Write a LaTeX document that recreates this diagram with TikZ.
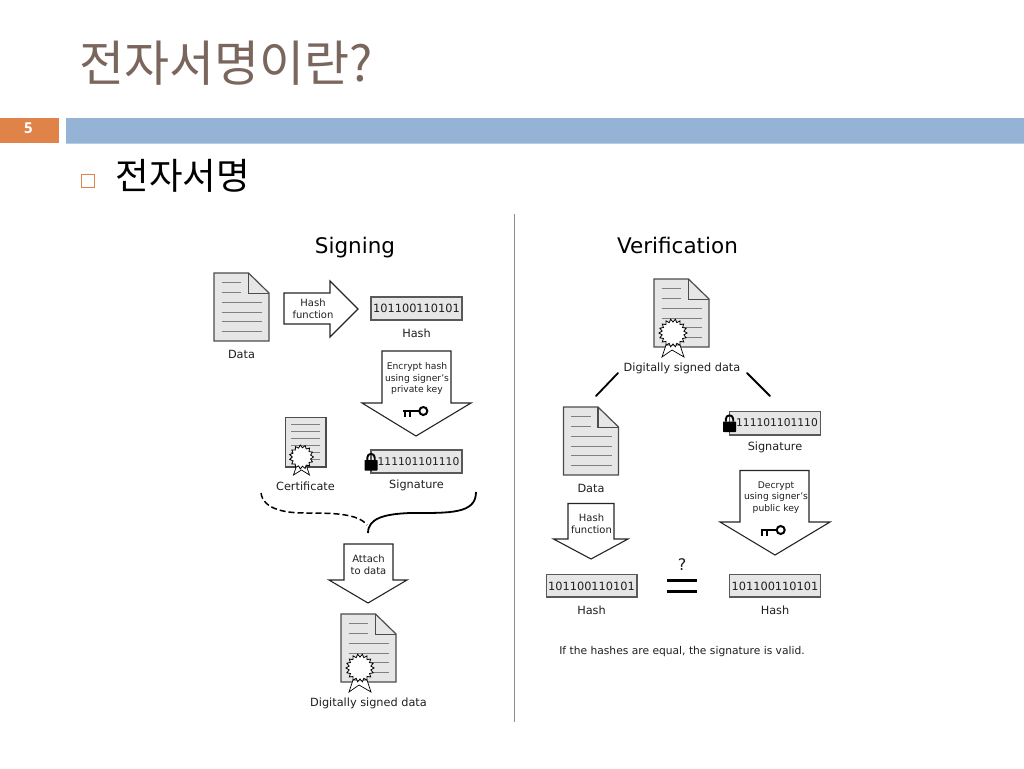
\documentclass[tikz,border=0pt]{standalone}
\usepackage{fontspec}
\setmainfont{DejaVu Sans}
\newfontfamily\krfont{Noto Sans CJK KR}
\newfontfamily\opensans{Open Sans}
\definecolor{titlecol}{HTML}{7A665C}
\definecolor{orangebar}{HTML}{DF8348}
\definecolor{bluebar}{HTML}{94B3D5}
\definecolor{bluelight}{HTML}{B7CDE3}
\definecolor{docfill}{HTML}{E6E6E6}
\definecolor{txt}{HTML}{1F1F1F}
\tikzset{
  lbl/.style={font=\fontsize{11.3}{14}\selectfont,text=txt,inner sep=0pt},
  sml/.style={font=\fontsize{9.2}{11.5}\selectfont,text=txt,inner sep=0pt,align=center},
  mid/.style={font=\fontsize{10}{12}\selectfont,text=txt,inner sep=0pt,align=center},
  head/.style={font=\fontsize{21.5}{25}\selectfont,text=black,inner sep=0pt,anchor=base},
  bits/.style={font=\fontsize{11.35}{14}\selectfont,text=txt,inner sep=0pt},
  lockbits/.style={font=\fontsize{10.7}{14}\selectfont,text=txt,inner sep=0pt},
  bitbox/.style={draw=black!65,fill=docfill,line width=1.1pt},
  blockarrow/.style={draw=black!85,fill=white,line width=1.1pt,line join=miter},
  bar/.style={line width=1.8pt,black,line cap=round},
  seal/.pic={
    \draw[black,fill=white,line width=0.7pt] (-7,12) -- (-11,24) -- (-1,17) -- (11,24) -- (7,12) -- cycle;
    \draw[black,fill=white,line width=0.8pt] plot[samples at={0,10,...,350}] (\x:{mod(\x,20)==0 ? 14 : 11}) -- cycle;
  },
  smallseal/.pic={
    \draw[black,fill=white,line width=0.7pt] (-5,9) -- (-8,18) -- (0,13) -- (8,18) -- (5,9) -- cycle;
    \draw[black,fill=white,line width=0.8pt] plot[samples at={0,12,...,348}] (\x:{mod(\x,24)==0 ? 12 : 9.3}) -- cycle;
  },
  docpage/.pic={
    \draw[draw=black!70,fill=docfill,line width=1.2pt,line join=miter] (0,0) -- (34.5,0) -- (55,20) -- (55,68) -- (0,68) -- cycle;
    \draw[draw=black!70,line width=1.2pt] (34.5,0) -- (34.5,20.5) -- (55,20.5);
    \foreach \yy/\xe in {9.5/27,19.5/27,29/48,39/48,48.5/48,58.5/48}
      \draw[black!50,line width=0.9pt] (7.5,\yy) -- (\xe,\yy);
  },
  keyicon/.pic={
    \draw[black,line width=2pt] (0,1.7) -- (16,1.7);
    \draw[black,line width=2pt] (1.5,1.7) -- (1.5,7.5);
    \draw[black,line width=2pt] (6.5,1.7) -- (6.5,7.5);
    \draw[black,line width=2pt] (20,1.5) circle[radius=4];
  },
  lockicon/.pic={
    \draw[black,line width=1.9pt] (2.8,8) -- (2.8,5.5) arc[start angle=180,end angle=360,radius=3.7] -- (10.2,8);
    \fill[black,rounded corners=0.7pt] (0,8) rectangle (13,18.5);
  }
}
\begin{document}
\begin{tikzpicture}[x=1pt,y=-1pt]
\useasboundingbox (0,0) rectangle (1024,768);
\fill[white] (0,0) rectangle (1024,768);
% slide
\node[anchor=base west,inner sep=0pt,text=titlecol,font=\krfont\fontsize{49}{54}\selectfont] (title) at (79,81.5) {전자서명이란?};
\fill[orangebar] (0,118) rectangle (59,143);
\fill[bluebar] (66,118) rectangle (1024,143);
\draw[bluelight,line width=1pt] (66,143) -- (1024,143);
\node[text=white,inner sep=0pt,font=\opensans\bfseries\fontsize{15}{17}\selectfont] (num) at (28.5,128) {5};
\draw[orangebar,line width=1pt] (81.5,174.5) rectangle (94.5,187.5);
\node[anchor=base west,inner sep=0pt,text=black,font=\krfont\fontsize{36.5}{40}\selectfont] (sub) at (115.5,189) {전자서명};
% divider
\draw[black!45,line width=1pt] (514.5,214) -- (514.5,722);
% signing
\node[head] (signing) at (355,253) {Signing};
\pic at (214,273) {docpage};
\node[lbl] (dataA) at (241.5,354) {Data};
\draw[blockarrow] (284,293) -- (330,293) -- (330,281) -- (358,309) -- (330,337) -- (330,324) -- (284,324) -- cycle;
\node[mid] (hf1) at (313,309) {Hash\\function};
\draw[bitbox] (371,297) rectangle (462,320);
\node[bits] (b1) at (416.5,308.5) {101100110101};
\node[lbl] (hashA) at (416.5,333) {Hash};
\draw[blockarrow] (382,351) -- (451,351) -- (451,403) -- (471,403) -- (416,436) -- (362,403) -- (382,403) -- cycle;
\node[sml] (enc) at (417,378.5) {Encrypt hash\\using signer's\\private key};
\pic at (403.3,409.5) {keyicon};
% certificate
\draw[draw=black!70,fill=docfill,line width=1.2pt] (285.5,417.5) rectangle (326,467);
\foreach \yy in {424,431,438,445,452,459}
  \draw[black!50,line width=0.9pt] (291,\yy) -- (320,\yy);
\pic at (301.5,457) {smallseal};
\node[lbl] (cert) at (305.5,486.5) {Certificate};
\draw[bitbox] (371,450) rectangle (462,473);
\node[lockbits] (b2) at (418.5,461.5) {111101101110};
\pic at (364.5,452) {lockicon};
\node[lbl] (sigA) at (416.5,485.5) {Signature};
\draw[black,line width=1.5pt,dash pattern=on 6pt off 3pt] (261,493) .. controls (263,508) and (282,513) .. (305,513) .. controls (330,513) and (358,513) .. (367,525);
\draw[black,line width=1.8pt] (368,533) .. controls (368,518) and (385,514) .. (410,513) .. controls (450,513) and (476,514) .. (476,492);
\draw[blockarrow] (344,544) -- (393,544) -- (393,580) -- (407,580) -- (368,603) -- (329,580) -- (344,580) -- cycle;
\node[mid] (att) at (368.5,565) {Attach\\to data};
\pic at (341,614) {docpage};
\pic at (360,668) {seal};
\node[lbl] (dsA) at (368.5,703.5) {Digitally signed data};
% verification
\node[head] (verif) at (677.5,253) {Verification};
\pic at (654,279) {docpage};
\pic at (673,333) {seal};
\node[lbl] (dsB) at (682,368.5) {Digitally signed data};
\coordinate (lA) at (618,373);
\coordinate (lB) at (596,396);
\coordinate (rA) at (747,373);
\coordinate (rB) at (770,396);
\draw[bar] (lA) -- (lB);
\draw[bar] (rA) -- (rB);
\pic at (563.5,407) {docpage};
\node[lbl] (dataB) at (591,488) {Data};
\draw[bitbox] (729.5,411.5) rectangle (820.5,435);
\node[lockbits] (b3) at (777,423) {111101101110};
\pic at (723,413.5) {lockicon};
\node[lbl] (sigB) at (775,447.5) {Signature};
\draw[blockarrow] (740,470.5) -- (809,470.5) -- (809,522) -- (830,522) -- (775,555) -- (720,522) -- (740,522) -- cycle;
\node[sml] (dec) at (776,497.5) {Decrypt\\using signer's\\public key};
\pic at (760.7,528.5) {keyicon};
\draw[blockarrow] (568,503.5) -- (614,503.5) -- (614,539) -- (628,539) -- (591,559) -- (553.5,539) -- (568,539) -- cycle;
\node[mid] (hf2) at (591.5,524) {Hash\\function};
\draw[bitbox] (546.5,574.5) rectangle (637,597);
\node[bits] (b4) at (591.5,586) {101100110101};
\node[lbl] (hashB) at (591.5,610) {Hash};
\draw[bitbox] (729.5,574.5) rectangle (820.5,597);
\node[bits] (b5) at (775,586) {101100110101};
\node[lbl] (hashC) at (775,610) {Hash};
\node[font=\fontsize{16}{18}\selectfont,text=txt,inner sep=0pt] (qm) at (682,564.5) {?};
\draw[black,line width=3pt] (667,580) -- (697,580);
\draw[black,line width=3pt] (667,591) -- (697,591);
\node[font=\fontsize{10.7}{13}\selectfont,text=txt,inner sep=0pt] (note) at (682,652) {If the hashes are equal, the signature is valid.};
\end{tikzpicture}
\end{document}
